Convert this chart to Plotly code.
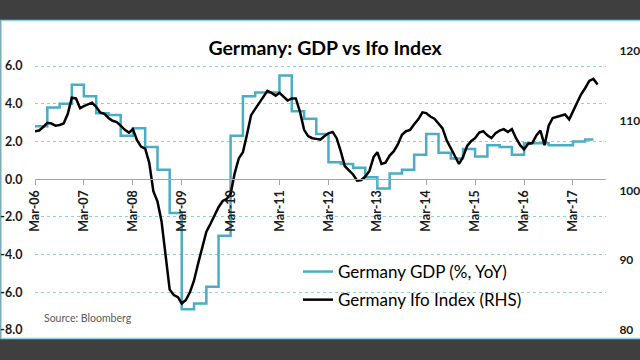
import pandas as pd
import plotly.graph_objects as go

# ---- data ----
gdp_start = "2006-03-01"
gdp_values = [2.8, 3.8, 4.0, 5.0, 4.4, 3.5, 3.4, 2.3,
              2.7, 1.7, 0.5, -1.8, -6.9, -6.6, -5.7, -3.0,
              2.3, 4.4, 4.6, 4.6, 5.5, 3.6, 3.2, 2.4,
              0.9, 0.8, 0.6, 0.1, -0.5, 0.3, 0.5, 1.3,
              2.4, 1.4, 1.1, 1.6, 1.2, 1.8, 1.7, 1.3,
              1.9, 1.9, 1.8, 1.8, 2.0, 2.1]
gdp_end_date = "2017-08-01"

ifo_start = "2006-03-01"
ifo_values = [108.5, 108.6, 109.1, 109.7, 109.6, 109.3, 109.4, 109.6, 111.0, 113.3,
              113.2, 111.8, 112.1, 112.4, 112.6, 112.0, 111.2, 111.0, 110.4, 110.0,
              109.8, 109.3, 108.7, 108.3, 108.8, 107.2, 106.3, 106.0, 104.0, 99.9,
              98.4, 95.6, 90.5, 85.8, 85.0, 84.7, 83.8, 84.3, 85.4, 87.1,
              89.5, 92.0, 94.1, 95.2, 96.5, 97.6, 98.5, 98.8, 99.5, 102.5,
              104.6, 105.5, 108.0, 110.8, 111.7, 112.5, 113.5, 114.3, 114.0, 113.6,
              114.0, 113.4, 112.9, 113.2, 113.2, 111.3, 108.7, 107.8, 107.5, 107.4,
              107.3, 107.8, 108.2, 108.4, 107.5, 105.6, 103.5, 102.9, 102.3, 101.4,
              101.5, 102.0, 102.8, 104.8, 105.5, 103.8, 104.0, 105.0, 105.6, 106.6,
              108.0, 108.5, 108.7, 109.5, 110.2, 111.2, 111.1, 110.6, 110.3, 109.6,
              108.9, 107.2, 106.0, 104.9, 103.8, 104.8, 106.4, 107.1, 107.5, 108.3,
              108.5, 107.9, 107.5, 108.2, 108.6, 108.8, 108.4, 108.8, 107.5, 106.5,
              105.9, 106.7, 106.8, 107.9, 108.6, 106.5, 109.3, 110.4, 110.6, 110.7,
              110.9, 110.2, 111.4, 112.6, 113.8, 114.7, 115.7, 116.0, 115.2]

left_ticks = [-8, -6, -4, -2, 0, 2, 4, 6]
left_tick_text = ["-8.0", "-6.0", "-4.0", "-2.0", "0.0", "2.0", "4.0", "6.0"]
right_ticks = [80, 90, 100, 110, 120]

title_text = "Germany: GDP vs Ifo Index"
gdp_name = "Germany GDP (%, YoY)"
ifo_name = "Germany Ifo Index (RHS)"
source_text = "Source: Bloomberg"

# ---- build series ----
gdp_dates = list(pd.date_range(gdp_start, periods=len(gdp_values), freq="QS-MAR"))
gdp_x = gdp_dates + [pd.Timestamp(gdp_end_date)]
gdp_y = gdp_values + [gdp_values[-1]]
ifo_x = pd.date_range(ifo_start, periods=len(ifo_values), freq="MS")

# ---- geometry ----
W, H = 640, 360
L, R, T, B = 35, 34, 51, 30
plot_h = H - T - B
left_min = -8
left_px = (330 - 66) / 14.0
left_max = left_min + plot_h / left_px
right_range = [80, 120]

def py(ypix):
    return (H - B - ypix) / plot_h

def px(xpix):
    return (xpix - L) / (W - L - R)

FONT = "Lato"
teal = "#4BACC6"
grid = "#8ecfdf"

fig = go.Figure()
fig.add_trace(go.Scatter(x=gdp_x, y=gdp_y, name=gdp_name, mode="lines",
                         line=dict(color=teal, width=2.5, shape="hv"),
                         legendgroup="g1", yaxis="y"))
fig.add_trace(go.Scatter(x=ifo_x, y=ifo_values, name=ifo_name, mode="lines",
                         line=dict(color="#000000", width=2.5),
                         legendgroup="g2", yaxis="y2"))

fig.update_layout(
    width=W, height=H,
    margin=dict(l=L, r=R, t=T, b=B, autoexpand=False),
    paper_bgcolor="#3f3f3f",
    plot_bgcolor="rgba(0,0,0,0)",
    font=dict(family=FONT, color="#1a1a1a"),
    showlegend=True,
    legend=dict(x=px(298), y=py(254), xanchor="left", yanchor="top",
                bgcolor="rgba(0,0,0,0)", font=dict(size=17, color="#000000"),
                tracegroupgap=3),
    xaxis=dict(type="date", range=["2006-03-01", "2017-11-03"],
               tick0="2006-03-01", dtick="M12", tickformat="%b-%y",
               tickangle=-90, anchor="free",
               position=(0 - left_min) / (left_max - left_min),
               showline=True, linecolor="#a6a6a6", linewidth=1,
               ticks="outside", ticklen=5, tickcolor="#a6a6a6",
               showgrid=False, zeroline=False,
               tickfont=dict(size=12.5, color="#1a1a1a", weight="bold")),
    yaxis=dict(range=[left_min, left_max], tickvals=left_ticks, ticktext=left_tick_text,
               showgrid=True, gridcolor=grid, griddash="dot", gridwidth=1,
               zeroline=False, showline=False, ticks="outside", ticklen=9,
               tickcolor="rgba(0,0,0,0)",
               tickfont=dict(size=12.5, color="#1a1a1a", weight="bold")),
    yaxis2=dict(range=right_range, tickvals=right_ticks, overlaying="y", side="right",
                showgrid=False, zeroline=False, showline=False, ticks="outside",
                ticklen=10, tickcolor="rgba(0,0,0,0)",
                tickfont=dict(size=12, color="#1a1a1a", weight="bold")),
    title=dict(text=title_text, x=px(325), xref="paper", xanchor="center",
               y=1 - 48 / H, yref="container", yanchor="middle",
               font=dict(size=19.5, color="#000000", family=FONT, weight="bold")),
)

# white card with teal frame
fig.add_shape(type="rect", xref="paper", yref="paper", layer="below",
              x0=px(1), x1=px(700), y0=py(338.5), y1=py(20.5),
              fillcolor="#ffffff", line=dict(color="#8fd0e0", width=1.5))

fig.add_annotation(text=source_text, xref="paper", yref="paper",
                   x=px(42), y=py(318), xanchor="left", yanchor="middle",
                   showarrow=False, font=dict(size=10.5, color="#595959", family=FONT))

fig.write_html("out.html",
               config={"displayModeBar": False},
               post_script="document.body.style.margin='0';document.body.style.overflow='hidden';")
